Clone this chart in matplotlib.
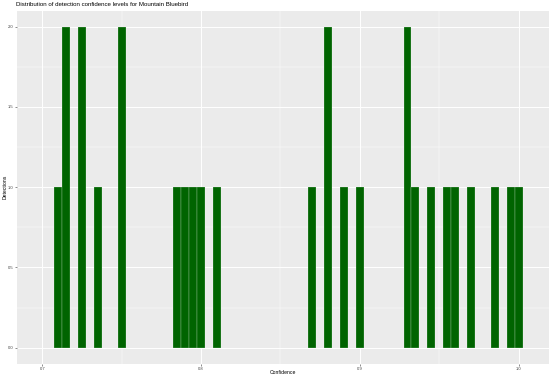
import numpy as np
import matplotlib.pyplot as plt
from matplotlib.ticker import MultipleLocator

plt.rcParams['font.family'] = ['Liberation Sans', 'DejaVu Sans']

# Histogram bins (centre of each bin) and detection counts
bin_centers = [0.710, 0.715, 0.725, 0.735, 0.750, 0.785, 0.790, 0.795, 0.800,
               0.810, 0.870, 0.880, 0.890, 0.900, 0.930, 0.935, 0.945, 0.955,
               0.960, 0.970, 0.985, 0.995, 1.000]
counts = [1, 2, 2, 1, 2, 1, 1, 1, 1,
          1, 1, 2, 1, 1, 2, 1, 1, 1,
          1, 1, 1, 1, 1]
binwidth = 0.005

x_ticks = [0.7, 0.8, 0.9, 1.0]
y_ticks = [0.0, 0.5, 1.0, 1.5, 2.0]

W, H = 553, 379
fig = plt.figure(figsize=(W / 100, H / 100), dpi=100)
ax = fig.add_axes([17 / W, 1 - 363.7 / H, (549 - 17) / W, (363.7 - 10.7) / H])
ax.set_facecolor('#EBEBEB')

ax.bar(bin_centers, counts, width=binwidth, color='#006400',
       edgecolor=(1, 1, 1, 0.45), linewidth=0.35, zorder=3)

ax.set_xlim(0.6841, 1.0191)
ax.set_ylim(-0.1, 2.1)
ax.set_xticks(x_ticks)
ax.set_xticklabels([f"{v:.1f}" for v in x_ticks])
ax.set_yticks(y_ticks)
ax.set_yticklabels([f"{v:.1f}" for v in y_ticks])
ax.xaxis.set_minor_locator(MultipleLocator(0.05))
ax.yaxis.set_minor_locator(MultipleLocator(0.25))

ax.grid(which='major', color='white', linewidth=0.7, zorder=0)
ax.grid(which='minor', color='white', linewidth=0.35, zorder=0)
ax.set_axisbelow(True)
for s in ax.spines.values():
    s.set_visible(False)

ax.tick_params(which='major', length=1.3, width=0.4, color='#333333',
               labelsize=3.0, labelcolor='#404040', pad=1.2)
ax.tick_params(which='minor', length=0)

ax.set_xlabel("Confidence", fontsize=3.7)
ax.set_ylabel("Detections", fontsize=3.7)
ax.xaxis.set_label_coords(0.5, -0.026)
ax.yaxis.set_label_coords(-0.0226, 0.5)
ax.xaxis.label.set_va('center')
ax.yaxis.label.set_va('center')
fig.text(16 / W, 1 - 5 / H, "Distribution of detection confidence levels for Mountain Bluebird",
         fontsize=4.4, ha='left', va='center')

fig.savefig("out.png", dpi=100)
